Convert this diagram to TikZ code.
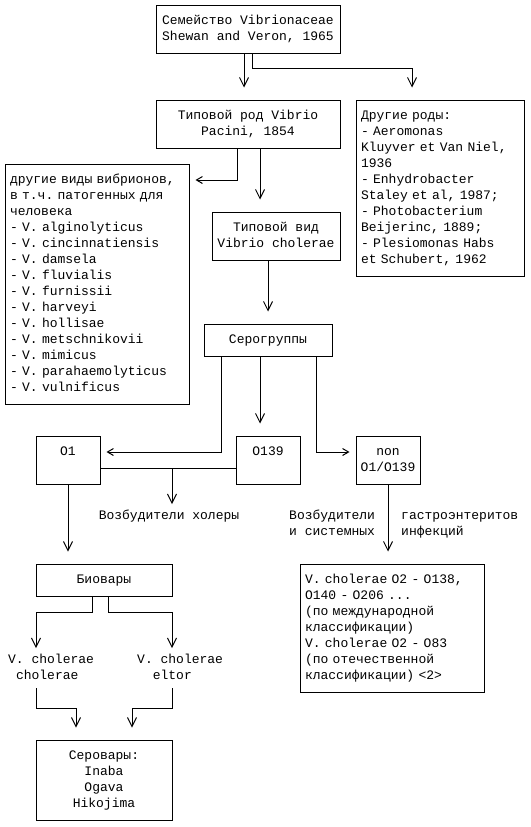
\documentclass[tikz,border=0pt]{standalone}
\usepackage{fontspec}
\setmainfont{Liberation Mono}
\usetikzlibrary{arrows.meta}
\begin{document}
\begin{tikzpicture}[x=1pt,y=-1pt,
  every node/.style={font=\fontsize{13}{16}\selectfont\frenchspacing},
  box/.style={draw, line width=1pt, inner sep=0pt, align=center},
  lbox/.style={draw, line width=1pt, inner xsep=5pt, inner ysep=0pt, align=left},
  txt/.style={inner sep=0pt},
  conn/.style={line width=1pt},
  av/.style={conn, -{Straight Barb[length=9pt,width=9pt]}},
  ah/.style={conn, -{Straight Barb[length=6pt,width=7pt]}},
]
\useasboundingbox (0,0) rectangle (530,827);

% boxes
\node[box, minimum width=184pt, minimum height=48pt] (fam) at (248,29)
  {\strut Семейство Vibrionaceae\\\strut Shewan and Veron, 1965};
\node[box, minimum width=184pt, minimum height=48pt] (genus) at (248,124)
  {\strut Типовой род Vibrio\\\strut Pacini, 1854};
\node[lbox, text width=158pt, minimum height=176pt] (othg) at (440,188)
  {\strut Другие роды:\\\strut - Aeromonas\\\strut Kluyver et Van Niel,\\\strut 1936\\\strut - Enhydrobacter\\\strut Staley et al, 1987;\\\strut - Photobacterium\\\strut Beijerinc, 1889;\\\strut - Plesiomonas Habs\\\strut et Schubert, 1962};
\node[lbox, text width=174pt, minimum height=240pt] (spec) at (97,284)
  {\strut другие виды вибрионов,\\\strut в т.ч. патогенных для\\\strut человека\\\strut - V. alginolyticus\\\strut - V. cincinnatiensis\\\strut - V. damsela\\\strut - V. fluvialis\\\strut - V. furnissii\\\strut - V. harveyi\\\strut - V. hollisae\\\strut - V. metschnikovii\\\strut - V. mimicus\\\strut - V. parahaemolyticus\\\strut - V. vulnificus};
\node[box, minimum width=128pt, minimum height=48pt] (typ) at (276,236)
  {\strut Типовой вид\\\strut Vibrio cholerae};
\node[box, minimum width=128pt, minimum height=32pt] (sero) at (268,340)
  {\strut Серогруппы};
\node[box, minimum width=64pt, minimum height=48pt] (o1) at (68,460)
  {\strut O1\\\strut};
\node[box, minimum width=64pt, minimum height=48pt] (o139) at (268,460)
  {\strut O139\\\strut};
\node[box, minimum width=64pt, minimum height=48pt] (non) at (388,460)
  {\strut non\\\strut O1/O139};
\node[box, minimum width=136pt, minimum height=32pt] (biov) at (104,580)
  {\strut Биовары};
\node[lbox, text width=174pt, minimum height=128pt] (nc) at (392,628)
  {\strut V. cholerae O2 - O138,\\\strut O140 - O206 ...\\\strut (по международной\\\strut классификации)\\\strut V. cholerae O2 - O83\\\strut (по отечественной\\\strut классификации) <2>};
\node[box, minimum width=136pt, minimum height=80pt] (ser) at (104,780)
  {\strut Серовары:\\\strut Inaba\\\strut Ogava\\\strut Hikojima};

% free texts
\node[txt] (chol) at (169,516) {\strut Возбудители холеры};
\node[txt, anchor=west, align=left] (pa1) at (289,524) {\strut Возбудители\\\strut и системных};
\node[txt, anchor=west, align=left] (pa2) at (401,524) {\strut гастроэнтеритов\\\strut инфекций};
\node[txt, anchor=west, align=left] (vcc) at (8,668) {\strut V. cholerae\\\strut\ cholerae};
\node[txt, anchor=west, align=left] (vce) at (137,668) {\strut V. cholerae\\\strut\ \ eltor};

% helper coordinates
\coordinate (h1) at (0,180);
\coordinate (hO) at (0,452);
\coordinate (cj) at (172,468);
\coordinate (ct) at (172,504);
\coordinate (t1) at (36,648);
\coordinate (t2) at (172,648);
\coordinate (s1) at (36,688);
\coordinate (s2) at (172,688);

% connectors
\draw[av, shorten >=12pt] ([xshift=-4pt]fam.south) -- ([xshift=-4pt]fam.south |- genus.north);
\draw[av, shorten >=12pt] ([xshift=4pt]fam.south) -- ++(0,15) -| ([xshift=-28pt]othg.north);
\draw[ah, shorten >=6pt] ([xshift=-11pt]genus.south) |- (spec.east |- h1);
\draw[av, shorten >=12pt] ([xshift=12pt]genus.south) -- ([xshift=12pt]genus.south |- typ.north);
\draw[av, shorten >=12pt] (sero.north |- typ.south) -- (sero.north);
\draw[ah, shorten >=6pt] ([xshift=-47pt]sero.south) |- (o1.east |- hO);
\draw[av, shorten >=12pt] ([xshift=-8pt]sero.south) -- ([xshift=-8pt]sero.south |- o139.north);
\draw[ah, shorten >=6pt] ([xshift=48pt]sero.south) |- (non.west |- hO);
\draw[conn] ([yshift=-8pt]o1.east) -- ([yshift=-8pt]o139.west);
\draw[av] (cj) -- (ct);
\draw[av, shorten >=12pt] (o1.south) -- (o1.south |- biov.north);
\draw[av, shorten >=12pt] (non.south) -- (non.south |- nc.north);
\draw[av] ([xshift=-12pt]biov.south) -- ++(0,16) -| (t1);
\draw[av] ([xshift=4pt]biov.south) -- ++(0,16) -| (t2);
\draw[av, shorten >=12pt] (s1) -- ++(0,20) -| ([xshift=-28pt]ser.north);
\draw[av, shorten >=12pt] (s2) -- ++(0,20) -| ([xshift=28pt]ser.north);
\end{tikzpicture}
\end{document}
